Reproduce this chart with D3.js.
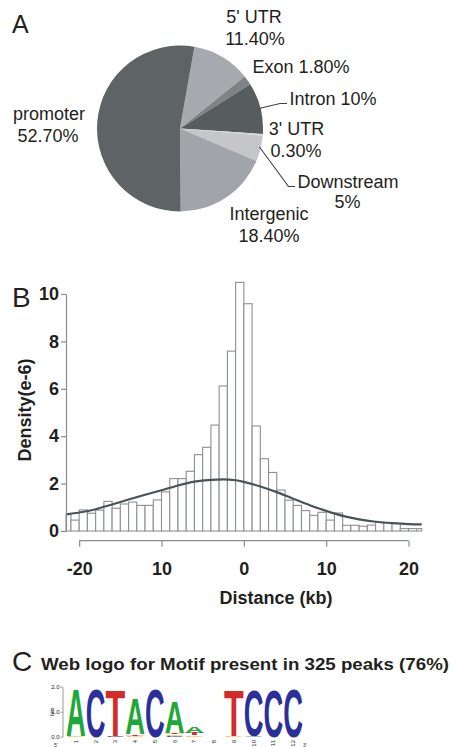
<!DOCTYPE html>
<html><head><meta charset="utf-8">
<script src="https://cdn.jsdelivr.net/npm/d3@7"></script>
<style>body{margin:0;background:#fff}svg{display:block}</style>
</head><body>
<svg id="c" width="450" height="747"></svg>
<script>
// ---- Panel A data ----
const pieCategories = ["5' UTR", "Exon", "Intron", "3' UTR", "Downstream", "Intergenic", "promoter"];
const piePercents = [11.4, 1.8, 10, 0.3, 5, 18.4, 52.7];
const pieColors = ["#a6a9ad", "#7f8386", "#575c5f", "#d4d6d8", "#c4c6c9", "#a1a4a8", "#5e6366"];

// ---- Panel B data ----
const binStarts = d3.range(-22, 22); // 1 kb bins
const binDensity = [0.69, 0.46, 0.89, 0.75, 0.88, 1.25, 0.96, 1.14, 1.22, 1.08, 1.08, 1.31,
  1.65, 2.21, 2.21, 2.52, 3.22, 3.53, 4.47, 6.12, 7.59, 10.49, 9.59, 4.43, 3.05, 2.47,
  1.73, 1.30, 1.08, 0.86, 0.66, 0.79, 0.46, 0.76, 0.24, 0.24, 0.20, 0.25, 0.37, 0.35,
  0.32, 0.10, 0.10, 0.10];
const curveKb = [-21.6, -20, -18, -16, -14, -12, -10, -8, -6, -4, -2.5, -1, 0, 2, 4, 6, 8, 10, 12, 14, 16, 18, 20, 21.6];
const curveDensity = [0.70, 0.78, 0.92, 1.12, 1.33, 1.53, 1.72, 1.92, 2.08, 2.16, 2.18, 2.14, 2.07, 1.88, 1.64, 1.36, 1.09, 0.85, 0.64, 0.49, 0.39, 0.33, 0.29, 0.28];
const xTickValues = [-20, -10, 0, 10, 20];
const xTickLabels = ["-20", "10", "0", "10", "20"];
const yTickValues = [0, 2, 4, 6, 8, 10];

// ---- Panel C data (sequence logo, bits per letter, stacked bottom→top) ----
const logoPositions = [1, 2, 3, 4, 5, 6, 7, 8, 9, 10, 11, 12];
const logoStacks = [
  [["G", 0.02], ["A", 1.93]],
  [["C", 1.97]],
  [["C", 0.03], ["T", 1.86]],
  [["G", 0.04], ["T", 0.06], ["A", 1.42]],
  [["C", 1.95]],
  [["C", 0.04], ["G", 0.06], ["T", 0.05], ["A", 1.28]],
  [["G", 0.05], ["T", 0.08], ["A", 0.28]],
  [],
  [["G", 0.02], ["T", 1.86]],
  [["A", 0.04], ["C", 1.86]],
  [["C", 1.93]],
  [["C", 1.95]]
];
const logoColors = {A: "#1fa83a", C: "#2a2f9c", G: "#f5a623", T: "#d42a2a"};
const logoYTicks = [0, 1, 2];

const svg = d3.select("#c");
const FONT = "'Liberation Sans', Arial, Helvetica, sans-serif";
const ink = "#231f20";

// ================= Panel A =================
svg.append("text").attr("x", 12).attr("y", 33).attr("font-family", FONT)
  .attr("font-size", 25).attr("fill", ink).text("A");

const cx = 180, cy = 128.5, R = 83;
const a0 = 10 * Math.PI / 180;
const pie = d3.pie().sort(null).startAngle(a0).endAngle(a0 + 2 * Math.PI);
const arcs = pie(piePercents);
const arc = d3.arc().innerRadius(0).outerRadius(R);
const gPie = svg.append("g").attr("transform", `translate(${cx},${cy})`);
gPie.selectAll("path").data(arcs).join("path")
  .attr("d", arc).attr("fill", (d, i) => pieColors[i]);

const pieLabels = [
  {t: "5' UTR", x: 254, y: 22.7}, {t: "11.40%", x: 255, y: 45},
  {t: "Exon 1.80%", x: 301, y: 73.3},
  {t: "Intron 10%", x: 333, y: 105},
  {t: "3' UTR", x: 296.5, y: 135}, {t: "0.30%", x: 296, y: 156.7},
  {t: "Downstream", x: 348, y: 188.3}, {t: "5%", x: 347.5, y: 208.3},
  {t: "Intergenic", x: 269, y: 220}, {t: "18.40%", x: 269, y: 241.7},
  {t: "promoter", x: 49, y: 119.5}, {t: "52.70%", x: 48, y: 141.7}
];
svg.append("g").selectAll("text").data(pieLabels).join("text")
  .attr("x", d => d.x).attr("y", d => d.y).attr("text-anchor", "middle")
  .attr("font-family", FONT).attr("font-size", 18).attr("fill", ink).text(d => d.t);

const leaders = [
  [[259, 108.5], [280, 103.5], [287, 103.5]],
  [[259.5, 147], [288.5, 186.5], [295, 186.5]]
];
svg.append("g").selectAll("path").data(leaders).join("path")
  .attr("d", d => d3.line()(d)).attr("fill", "none").attr("stroke", "#3d4245").attr("stroke-width", 1.1);

// ================= Panel B =================
svg.append("text").attr("x", 12).attr("y", 307).attr("font-family", FONT)
  .attr("font-size", 28).attr("fill", ink).text("B");

const x = d3.scaleLinear().domain([-21.6, 21.6]).range([66, 421.7]);
const y = d3.scaleLinear().domain([0, 10]).range([531, 294]);
const axisGray = "#8a8d90";

const gB = svg.append("g");
gB.selectAll("rect").data(binDensity).join("rect")
  .attr("x", (d, i) => Math.max(x(binStarts[i]), x.range()[0]))
  .attr("width", (d, i) => Math.min(x(binStarts[i] + 1), x.range()[1]) - Math.max(x(binStarts[i]), x.range()[0]))
  .attr("y", d => y(d)).attr("height", d => y(0) - y(d))
  .attr("fill", "#fff").attr("stroke", "#8d9093").attr("stroke-width", 1.1);

const line = d3.line().x((d, i) => x(curveKb[i])).y(d => y(d)).curve(d3.curveMonotoneX);
gB.append("path").datum(curveDensity).attr("d", line)
  .attr("fill", "none").attr("stroke", "#4a5357").attr("stroke-width", 2.2);

// y axis
const yAxis = svg.append("g").attr("transform", "translate(66,0)")
  .call(d3.axisLeft(y).tickValues(yTickValues).tickSize(5).tickSizeOuter(0).tickFormat(d3.format("d")));
yAxis.select(".domain").attr("stroke", axisGray).attr("stroke-width", 1.2);
yAxis.selectAll(".tick line").attr("stroke", axisGray).attr("stroke-width", 1.2);
yAxis.selectAll(".tick text").attr("x", -7).attr("font-family", FONT).attr("font-size", 18)
  .attr("font-weight", "bold").attr("fill", ink);

// x axis
const xAxis = svg.append("g").attr("transform", "translate(0,540.7)")
  .call(d3.axisBottom(x).tickValues(xTickValues).tickSize(6).tickSizeOuter(0)
    .tickFormat((d, i) => xTickLabels[i]));
xAxis.select(".domain").attr("d", `M${x(-20)},0H${x(20)}`).attr("stroke", axisGray).attr("stroke-width", 1.2);
xAxis.selectAll(".tick line").attr("stroke", axisGray).attr("stroke-width", 1.2);
xAxis.selectAll(".tick text").attr("y", 22).attr("dy", "0.71em").attr("font-family", FONT).attr("font-size", 18)
  .attr("font-weight", "bold").attr("fill", ink);

svg.append("text").attr("x", 276).attr("y", 603.5).attr("text-anchor", "middle")
  .attr("font-family", FONT).attr("font-size", 18).attr("font-weight", "bold").attr("fill", ink)
  .text("Distance (kb)");
svg.append("text").attr("transform", "translate(30.5,410) rotate(-90)").attr("text-anchor", "middle")
  .attr("font-family", FONT).attr("font-size", 18).attr("font-weight", "bold").attr("fill", ink)
  .text("Density(e-6)");

// ================= Panel C =================
svg.append("text").attr("x", 12).attr("y", 671).attr("font-family", FONT)
  .attr("font-size", 28).attr("fill", ink).text("C");
svg.append("text").attr("x", 41).attr("y", 670).attr("font-family", FONT)
  .attr("font-size", 17).attr("font-weight", "bold").attr("fill", ink)
  .attr("textLength", 408).attr("lengthAdjust", "spacingAndGlyphs")
  .text("Web logo for Motif present in 325 peaks (76%)");

const lx = d3.scaleBand().domain(logoPositions).range([66, 303]).padding(0);
const ly = d3.scaleLinear().domain([0, 2]).range([736.7, 686.7]);

const yl = svg.append("g").attr("transform", "translate(62.5,0)")
  .call(d3.axisLeft(ly).tickValues(logoYTicks).tickSize(2).tickSizeOuter(0));
yl.select(".domain").attr("stroke", "#555").attr("stroke-width", 0.6);
yl.selectAll(".tick line").attr("stroke", "#555").attr("stroke-width", 0.6);
yl.selectAll(".tick text").attr("x", -3).attr("font-family", FONT).attr("font-size", 6).attr("fill", ink);
svg.append("text").attr("transform", `translate(54,${ly(1)}) rotate(-90)`).attr("text-anchor", "middle")
  .attr("font-family", FONT).attr("font-size", 5.5).attr("fill", ink).text("bits");

// logo letters
const FS = 100, CAP = 0.716;
const gL = svg.append("g");
logoStacks.forEach((stack, i) => {
  let base = 0;
  const x0 = lx(logoPositions[i]), w = lx.bandwidth();
  stack.forEach(([ch, bits]) => {
    const t = gL.append("text").attr("font-family", FONT).attr("font-weight", "bold")
      .attr("font-size", FS).attr("fill", logoColors[ch]).text(ch);
    const bw = t.node().getBBox().width;
    const sx = w / bw, sy = (ly(base) - ly(base + bits)) / (CAP * FS);
    t.attr("transform", `translate(${x0},${ly(base)}) scale(${sx},${sy})`);
    base += bits;
  });
});
// logo x tick labels
svg.append("g").selectAll("text").data(logoPositions).join("text")
  .attr("transform", d => `translate(${lx(d) + lx.bandwidth() / 2 + 2},740) rotate(-90)`)
  .attr("text-anchor", "end").attr("font-family", FONT).attr("font-size", 6).attr("fill", ink)
  .text(d => d);
svg.append("text").attr("x", 54).attr("y", 747).attr("font-family", FONT).attr("font-size", 5).attr("fill", ink).text("5'");
svg.append("text").attr("x", 303).attr("y", 747).attr("font-family", FONT).attr("font-size", 5).attr("fill", ink).text("3'");
</script>
</body></html>
